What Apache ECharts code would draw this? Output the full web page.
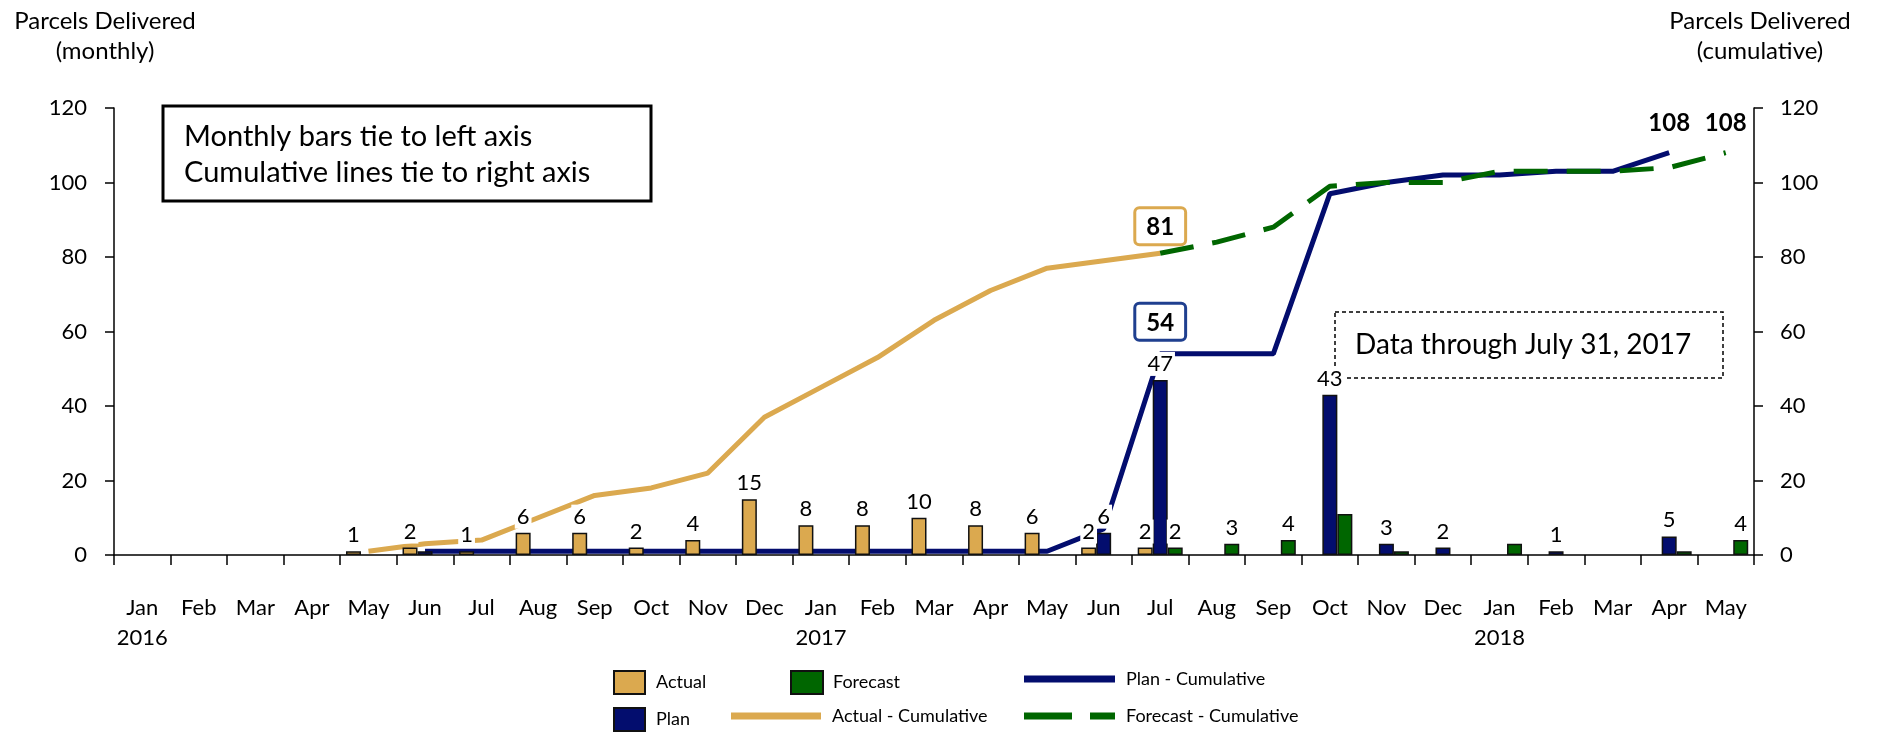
<!DOCTYPE html>
<html>
<head>
<meta charset="utf-8">
<script src="https://cdn.jsdelivr.net/npm/echarts@6/dist/echarts.min.js"></script>
<style>
  html, body { margin: 0; padding: 0; background: #fff; }
  #chart { width: 1881px; height: 732px; }
</style>
</head>
<body>
<div id="chart"></div>
<script>
// 月份（横轴）
const months = ['Jan\n2016', 'Feb', 'Mar', 'Apr', 'May', 'Jun', 'Jul', 'Aug', 'Sep', 'Oct', 'Nov', 'Dec',
                'Jan\n2017', 'Feb', 'Mar', 'Apr', 'May', 'Jun', 'Jul', 'Aug', 'Sep', 'Oct', 'Nov', 'Dec',
                'Jan\n2018', 'Feb', 'Mar', 'Apr', 'May'];

// monthly bars (left axis)
const actual   = [null, null, null, null, 1, 2, 1, 6, 6, 2, 4, 15, 8, 8, 10, 8, 6, 2, 2, null, null, null, null, null, null, null, null, null, null];
const plan     = [null, null, null, null, null, 1, null, null, null, null, null, null, null, null, null, null, null, 6, 47, null, null, 43, 3, 2, null, 1, null, 5, null];
const forecast = [null, null, null, null, null, null, null, null, null, null, null, null, null, null, null, null, null, null, 2, 3, 4, 11, 1, null, 3, null, null, 1, 4];

// cumulative lines (right axis)
const actualCum   = [null, null, null, null, 1, 3, 4, 10, 16, 18, 22, 37, 45, 53, 63, 71, 77, 79, 81, null, null, null, null, null, null, null, null, null, null];
const planCum     = [null, null, null, null, null, 1, 1, 1, 1, 1, 1, 1, 1, 1, 1, 1, 1, 7, 54, 54, 54, 97, 100, 102, 102, 103, 103, 108, null];
const forecastCum = [null, null, null, null, null, null, null, null, null, null, null, null, null, null, null, null, null, null, 81, 84, 88, 99, 100, 100, 103, 103, 103, 104, 108];

// 哪些柱子不显示数字
const planNoLabel = [5];
const forecastNoLabel = [21, 22, 24, 27];

const TAN = '#DBA94F';
const NAVY = '#030D6E';
const GREEN = '#006600';
const FONT = 'Lato';

const barLabel = {
    show: true,
    position: 'top',
    distance: 4,
    fontSize: 22,
    color: '#000',
    backgroundColor: '#fff',
    padding: [1, 2]
};

function barData(values, hidden) {
    return values.map((v, i) => {
        if (v == null) return null;
        return { value: v, label: { show: hidden.indexOf(i) < 0 } };
    });
}

// 累计线：只有个别点带标签
function cumData(values, special) {
    return values.map((v, i) => {
        if (v == null) return null;
        if (special[i]) return { value: v, label: special[i] };
        return v;
    });
}

const boxLabel = (color, dist) => ({
    show: true, position: 'top', distance: dist,
    fontSize: 24, fontWeight: 'bold', color: '#000',
    backgroundColor: '#fff', borderColor: color, borderWidth: 3, borderRadius: 3,
    padding: [6, 10, 4, 10]
});
const bigLabel = { show: true, position: 'top', distance: 17, fontSize: 24, fontWeight: 'bold', color: '#000' };

const chart = echarts.init(document.getElementById('chart'));

function oneLegend(name, left, top, w, h, pad, icon) {
    return {
        data: [name], left: left, top: top, padding: 0,
        itemWidth: w, itemHeight: h, icon: icon,
        textStyle: { fontSize: 18, color: '#000', fontFamily: FONT, padding: [0, 0, 0, pad] }
    };
}

const dashIcon = 'path://M0,0H48V7H0Z M66,0H91V7H66Z';

chart.setOption({
    animation: false,
    textStyle: { fontFamily: FONT },
    grid: { left: 114, right: 127, top: 108, bottom: 177, outerBoundsMode: 'none' },
    legend: [
        oneLegend('Actual', 613, 670, 31, 23, 6, 'rect'),
        oneLegend('Plan', 613, 707, 31, 23, 6, 'rect'),
        oneLegend('Forecast', 790, 670, 32, 23, 5, 'rect'),
        oneLegend('Actual - Cumulative', 731, 707, 90, 7, 6, 'rect'),
        oneLegend('Plan - Cumulative', 1024, 670, 91, 7, 6, 'rect'),
        oneLegend('Forecast - Cumulative', 1024, 707, 91, 7, 6, dashIcon)
    ],
    xAxis: {
        type: 'category',
        data: months,
        axisLine: { lineStyle: { color: '#000', width: 1.5 } },
        axisTick: { show: true, length: 10, interval: 0, lineStyle: { color: '#000', width: 1.5 } },
        axisLabel: { interval: 0, fontSize: 22, lineHeight: 30, color: '#000', margin: 38 }
    },
    yAxis: [
        {
            type: 'value', min: 0, max: 120, interval: 20,
            axisLine: { show: true, lineStyle: { color: '#000', width: 1.5 } },
            axisTick: { show: true, length: 9, lineStyle: { color: '#000', width: 1.5 } },
            axisLabel: { fontSize: 22, color: '#000', margin: 27 },
            splitLine: { show: false }
        },
        {
            type: 'value', min: 0, max: 120, interval: 20, position: 'right',
            axisLine: { show: true, lineStyle: { color: '#000', width: 1.5 } },
            axisTick: { show: true, length: 9, lineStyle: { color: '#000', width: 1.5 } },
            axisLabel: { fontSize: 22, color: '#000', margin: 26 },
            splitLine: { show: false }
        }
    ],
    series: [
        {
            name: 'Actual', type: 'bar', z: 3, barWidth: 15, barGap: '0%',
            itemStyle: { color: TAN, borderColor: '#111', borderWidth: 1.5 },
            label: barLabel,
            data: barData(actual, [])
        },
        {
            name: 'Plan', type: 'bar', z: 3, barWidth: 15, barGap: '0%',
            itemStyle: { color: NAVY, borderColor: '#111', borderWidth: 1.5 },
            label: barLabel,
            data: barData(plan, planNoLabel)
        },
        {
            name: 'Forecast', type: 'bar', z: 3, barWidth: 15, barGap: '0%',
            itemStyle: { color: GREEN, borderColor: '#111', borderWidth: 1.5 },
            label: barLabel,
            data: barData(forecast, forecastNoLabel)
        },
        {
            name: 'Actual - Cumulative', type: 'line', yAxisIndex: 1, z: 2,
            symbol: 'circle', symbolSize: 0, showSymbol: true,
            lineStyle: { color: TAN, width: 5 },
            itemStyle: { color: TAN },
            data: cumData(actualCum, { 18: boxLabel(TAN, 10) })
        },
        {
            name: 'Plan - Cumulative', type: 'line', yAxisIndex: 1, z: 2,
            symbol: 'circle', symbolSize: 0, showSymbol: true,
            lineStyle: { color: NAVY, width: 5 },
            itemStyle: { color: NAVY },
            data: cumData(planCum, { 18: boxLabel('#1F3F8F', 15), 27: bigLabel })
        },
        {
            name: 'Forecast - Cumulative', type: 'line', yAxisIndex: 1, z: 2,
            symbol: 'circle', symbolSize: 0, showSymbol: true,
            lineStyle: { color: GREEN, width: 5, type: [34, 19] },
            itemStyle: { color: GREEN },
            data: cumData(forecastCum, { 28: bigLabel })
        }
    ],
    graphic: [
        // 左右轴标题
        { type: 'text', x: 105, y: 6, style: { text: 'Parcels Delivered\n(monthly)', font: '24px Lato', fill: '#000', align: 'center', lineHeight: 30 } },
        { type: 'text', x: 1760, y: 6, style: { text: 'Parcels Delivered\n(cumulative)', font: '24px Lato', fill: '#000', align: 'center', lineHeight: 30 } },
        // 说明框（放在柱子下面，让 43 压在虚线上）
        { type: 'rect', shape: { x: 163, y: 106, width: 488, height: 95 }, style: { fill: '#fff', stroke: '#000', lineWidth: 3 }, z: 1 },
        { type: 'text', x: 184, y: 119, z: 1, style: { text: 'Monthly bars tie to left axis\nCumulative lines tie to right axis', font: '29px Lato', fill: '#000', lineHeight: 36 } },
        { type: 'rect', shape: { x: 1335, y: 312, width: 388, height: 66 }, style: { fill: '#fff', stroke: '#000', lineWidth: 1.5, lineDash: [4, 3] }, z: 1 },
        { type: 'text', x: 1355, y: 345, z: 1, style: { text: 'Data through July 31, 2017', font: '28px Lato', fill: '#000', verticalAlign: 'middle' } }
    ]
});
</script>
</body>
</html>
